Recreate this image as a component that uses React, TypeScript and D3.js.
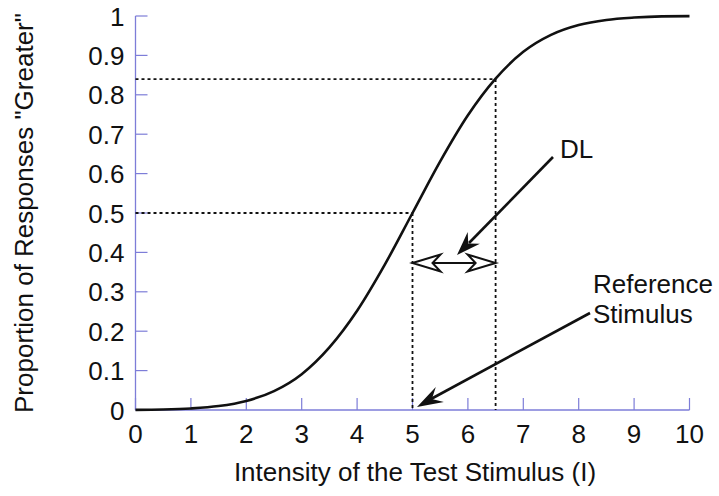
import React from "react";
import * as d3 from "d3";

const xTicks = [0, 1, 2, 3, 4, 5, 6, 7, 8, 9, 10];
const yTicks = [0, 0.1, 0.2, 0.3, 0.4, 0.5, 0.6, 0.7, 0.8, 0.9, 1];
const yTickLabels = ["0", "0.1", "0.2", "0.3", "0.4", "0.5", "0.6", "0.7", "0.8", "0.9", "1"];
const curveX = [0, 0.5, 1, 1.5, 2, 2.5, 3, 3.5, 4, 4.5, 5, 5.5, 6, 6.5, 7, 7.5, 8, 8.5, 9, 9.5, 10];
const curveY = [0.0004, 0.0013, 0.004, 0.01, 0.023, 0.048, 0.091, 0.159, 0.252, 0.369, 0.5, 0.631, 0.748, 0.841, 0.909, 0.952, 0.977, 0.99, 0.996, 0.999, 0.9996];
const refX = 5;
const refY = 0.5;
const dlX = 6.5;
const dlY = 0.84;

const W = 719, H = 496;
const x = d3.scaleLinear().domain([0, 10]).range([135.5, 689.5]);
const y = d3.scaleLinear().domain([0, 1]).range([410, 16]);
const axisColor = "#7d7dd8";
const font = "'Liberation Sans', Arial, sans-serif";
const FS = 26;

function stealth(tipX: number, tipY: number, fromX: number, fromY: number, L: number, Wd: number, notch: number) {
  const a = Math.atan2(tipY - fromY, tipX - fromX);
  const c = Math.cos(a), s = Math.sin(a);
  const pt = (u: number, v: number) => [tipX + u * c - v * s, tipY + u * s + v * c];
  const pts = [pt(0, 0), pt(-L, Wd / 2), pt(-notch, 0), pt(-L, -Wd / 2)];
  return "M" + pts.map((p) => p[0].toFixed(1) + "," + p[1].toFixed(1)).join("L") + "Z";
}

export default function App() {
  React.useEffect(() => {
    document.body.style.margin = "0";
  }, []);
  const line = d3
    .line<number>()
    .x((_, i) => x(curveX[i]))
    .y((d) => y(d))
    .curve(d3.curveMonotoneX);

  const dash = "3,3";
  const dlArrowStart = [553, 157];
  const dlArrowTip = [457, 255];
  const refStart = [590, 313];
  const refTip = [417, 407];
  const dblY = 263;
  const dblL = x(refX);
  const dblR = x(dlX);

  return (
    <svg width={W} height={H} style={{ display: "block", background: "#fff" }} fontFamily={font}>
      {/* axes */}
      <line x1={x(0)} x2={x(10)} y1={y(0)} y2={y(0)} stroke={axisColor} strokeWidth={1.3} />
      <line x1={x(0)} x2={x(0)} y1={y(0)} y2={y(1)} stroke={axisColor} strokeWidth={1.3} />
      {xTicks.map((t) => (
        <g key={"xt" + t}>
          <line x1={x(t)} x2={x(t)} y1={y(0)} y2={y(0) - 12} stroke={axisColor} strokeWidth={1.2} />
          <text x={x(t)} y={y(0) + 33} fontSize={FS} textAnchor="middle" fill="#111">
            {t}
          </text>
        </g>
      ))}
      {yTicks.map((t, i) => (
        <g key={"yt" + t}>
          <line x1={x(0)} x2={x(0) + 12} y1={y(t)} y2={y(t)} stroke={axisColor} strokeWidth={1.2} />
          <text x={x(0) - 11} y={y(t) + 9.5} fontSize={FS} textAnchor="end" fill="#111">
            {yTickLabels[i]}
          </text>
        </g>
      ))}
      {/* guide lines */}
      <line x1={x(0)} x2={x(refX)} y1={y(refY)} y2={y(refY)} stroke="#111" strokeWidth={1.8} strokeDasharray={dash} />
      <line x1={x(refX)} x2={x(refX)} y1={y(refY)} y2={y(0)} stroke="#111" strokeWidth={1.8} strokeDasharray={dash} />
      <line x1={x(0)} x2={x(dlX)} y1={y(dlY)} y2={y(dlY)} stroke="#111" strokeWidth={1.8} strokeDasharray={dash} />
      <line x1={x(dlX)} x2={x(dlX)} y1={y(dlY)} y2={y(0)} stroke="#111" strokeWidth={1.8} strokeDasharray={dash} />
      {/* curve */}
      <path d={line(curveY) || ""} fill="none" stroke="#111" strokeWidth={2.6} />
      {/* double arrow */}
      <line x1={dblL + 20} x2={dblR - 20} y1={dblY} y2={dblY} stroke="#111" strokeWidth={1.8} />
      <path d={stealth(dblL, dblY, dblR, dblY, 28, 17, 20)} fill="#fff" stroke="#111" strokeWidth={2} strokeLinejoin="miter" />
      <path d={stealth(dblR, dblY, dblL, dblY, 28, 17, 20)} fill="#fff" stroke="#111" strokeWidth={2} strokeLinejoin="miter" />
      {/* DL arrow */}
      <line x1={dlArrowStart[0]} y1={dlArrowStart[1]} x2={dlArrowTip[0] + 12} y2={dlArrowTip[1] - 12} stroke="#111" strokeWidth={2.6} />
      <path d={stealth(dlArrowTip[0], dlArrowTip[1], dlArrowStart[0], dlArrowStart[1], 24, 17, 16)} fill="#111" />
      <text x={560} y={158} fontSize={FS} fill="#111">DL</text>
      {/* Reference arrow */}
      <line x1={refStart[0]} y1={refStart[1]} x2={refTip[0] + 14} y2={refTip[1] - 8} stroke="#111" strokeWidth={2.6} />
      <path d={stealth(refTip[0], refTip[1], refStart[0], refStart[1], 26, 17, 17)} fill="#111" />
      <text x={593} y={293} fontSize={FS} fill="#111">Reference</text>
      <text x={593} y={323} fontSize={FS} fill="#111">Stimulus</text>
      {/* axis titles */}
      <text x={415} y={481} fontSize={FS} textAnchor="middle" fill="#111">
        Intensity of the Test Stimulus (I)
      </text>
      <text transform={`translate(33,213) rotate(-90)`} fontSize={FS} textAnchor="middle" fill="#111">
        Proportion of Responses "Greater"
      </text>
    </svg>
  );
}
